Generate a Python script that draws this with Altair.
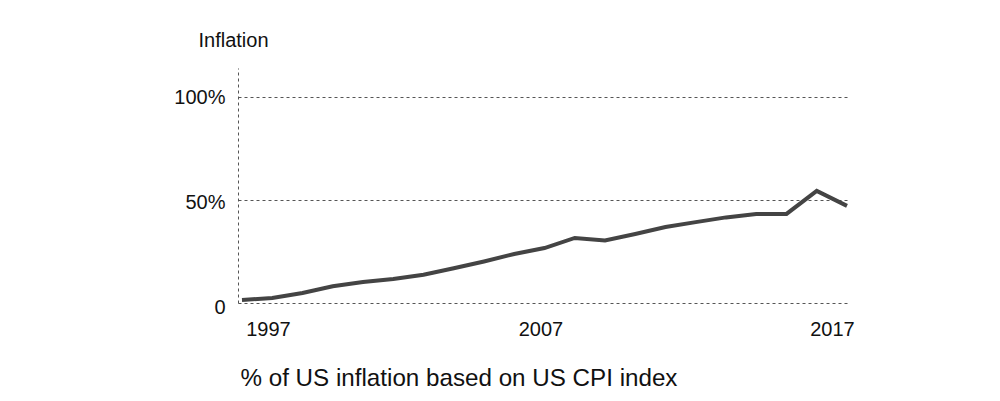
import altair as alt
import pandas as pd

years = list(range(1997, 2018))
inflation = [1.5, 2.4, 4.9, 8.1, 10.2, 11.7, 13.7, 16.9, 20.2, 23.8, 26.7,
             31.6, 30.4, 33.5, 36.9, 39.3, 41.6, 43.3, 43.3, 54.5, 47.2]
x_ticks = [1997, 2007, 2017]
y_ticks = [0, 50, 100]

df = pd.DataFrame({"year": years, "inflation": inflation})

FONT = "Liberation Sans"

x_label_offset = {"condition": [{"test": "datum.value == 1997", "value": 26},
                                {"test": "datum.value == 2017", "value": -15}],
                  "value": -4}
y_label_offset = {"condition": [{"test": "datum.value == 0", "value": 4},
                                {"test": "datum.value == 50", "value": 2}],
                  "value": 0}

chart = alt.Chart(df).mark_line(color="#444444", strokeWidth=4, strokeJoin="miter").encode(
    x=alt.X("year:Q",
            scale=alt.Scale(domain=[1996.868, 2017], nice=False, zero=False),
            axis=alt.Axis(values=x_ticks, format="d", grid=False, domain=False, ticks=False,
                          labelFlush=False, labelOverlap=False,
                          labelOffset=x_label_offset, labelPadding=16, labelFontSize=20,
                          labelFont=FONT, labelColor="#111111",
                          title="% of US inflation based on US CPI index",
                          titleFont=FONT, titleFontSize=24.2, titleFontWeight="normal",
                          titleColor="#111111", titleAlign="left", titleAnchor="start",
                          titleX=2, titleY=82, titleBaseline="alphabetic")),
    y=alt.Y("inflation:Q",
            scale=alt.Scale(domain=[0, 114.2], nice=False),
            axis=alt.Axis(values=y_ticks, labelExpr="datum.value == 0 ? '0' : datum.value + '%'",
                          grid=True, gridDash=[3, 3], gridColor="#555555", gridWidth=1,
                          domain=True, domainDash=[3, 3], domainColor="#555555", domainWidth=1,
                          ticks=False, labelPadding=13, labelFontSize=20, labelFont=FONT,
                          labelColor="#111111", labelOffset=y_label_offset,
                          title="Inflation", titleAngle=0, titleFont=FONT, titleFontSize=20,
                          titleFontWeight="normal", titleColor="#111111",
                          titleAlign="left", titleBaseline="alphabetic",
                          titleX=-40, titleY=-22))
).properties(
    width=609, height=235,
    background="white",
    autosize=alt.AutoSizeParams(type="none"),
    padding={"left": 230, "top": 60, "right": 20, "bottom": 90}
).configure_view(strokeWidth=0)

chart.save("out.html", embed_options={"renderer": "svg", "actions": False})
